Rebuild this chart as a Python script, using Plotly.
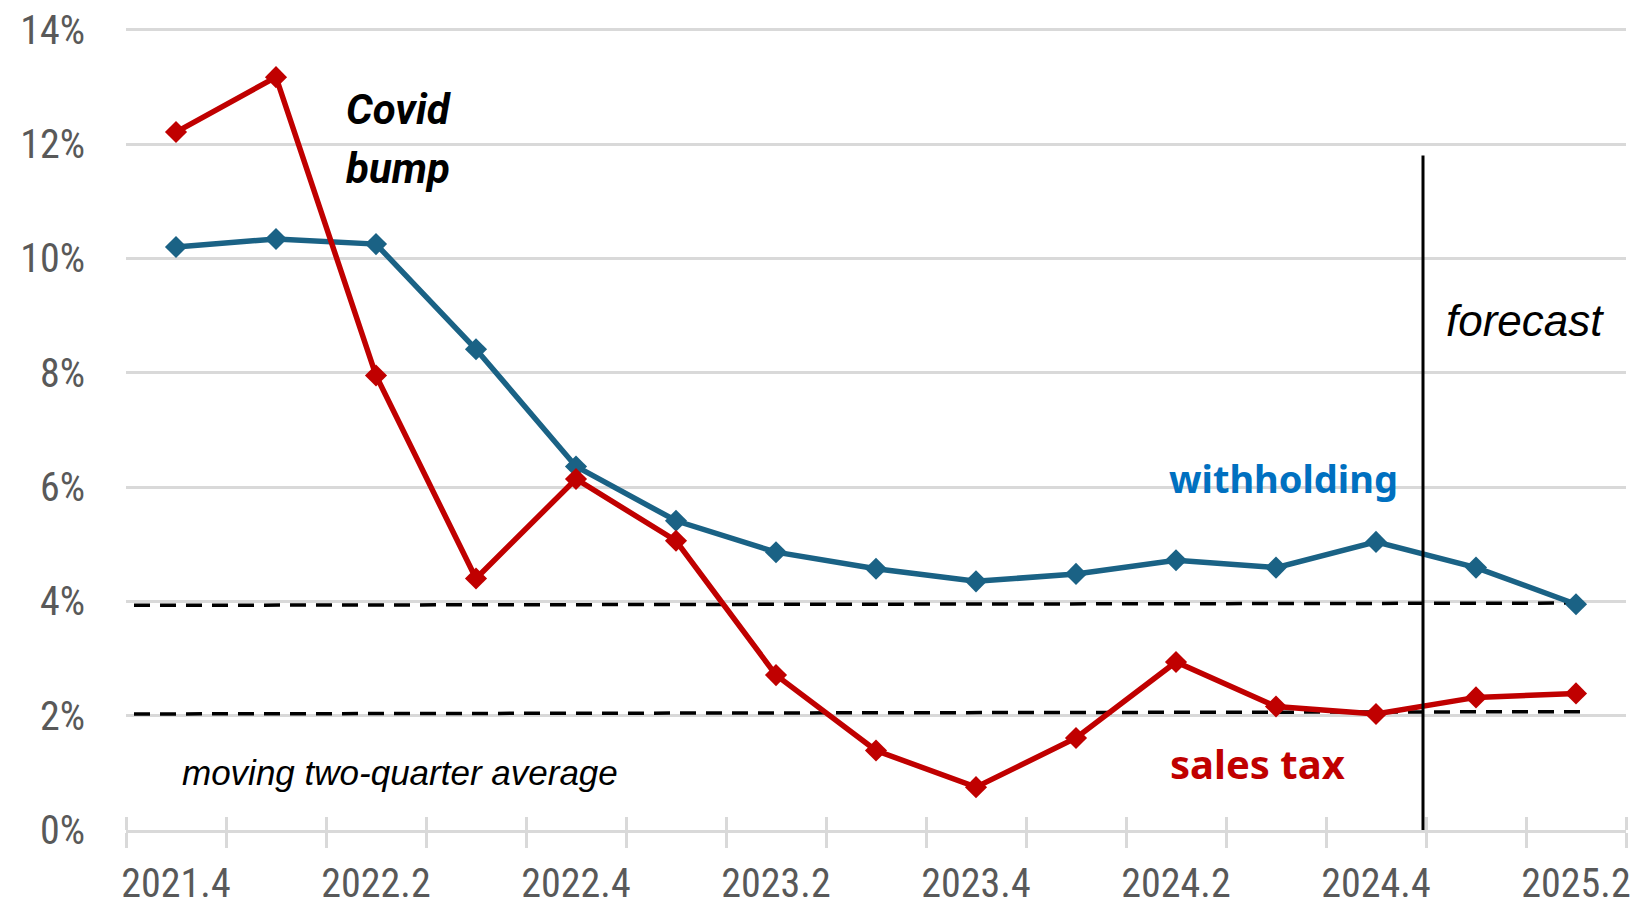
import plotly.graph_objects as go

quarters = ["2021.4", "2022.1", "2022.2", "2022.3", "2022.4", "2023.1", "2023.2", "2023.3",
            "2023.4", "2024.1", "2024.2", "2024.3", "2024.4", "2025.1", "2025.2"]
sales_tax = [12.21, 13.17, 7.95, 4.40, 6.14, 5.06, 2.71, 1.39, 0.75, 1.61, 2.94, 2.16, 2.03, 2.32, 2.39]
withholding = [10.20, 10.34, 10.25, 8.41, 6.36, 5.41, 4.86, 4.57, 4.35, 4.48, 4.72, 4.59, 5.04, 4.59, 3.95]
withholding_avg = [3.93, 3.97]
sales_avg = [2.03, 2.07]
avg_span = [-0.42, 14.12]
forecast_x = [12.47, 12.47]
forecast_y = [-0.05, 11.8]
y_ticks = [0, 2, 4, 6, 8, 10, 12, 14]
y_labels = [f"{v}%" for v in y_ticks]

idx = list(range(len(quarters)))
label_idx = idx[::2]
label_text = [quarters[i] for i in label_idx]

BLUE = "#1A6285"
RED = "#C00000"
GRID = "#D9D9D9"
TICKFONT = dict(family="Roboto Condensed, DejaVu Sans Condensed, sans-serif",
                size=40, color="#595959")

fig = go.Figure()
fig.add_trace(go.Scatter(x=avg_span, y=withholding_avg, mode="lines",
                         line=dict(color="black", width=3.5, dash="16px,10px"), hoverinfo="skip"))
fig.add_trace(go.Scatter(x=avg_span, y=sales_avg, mode="lines",
                         line=dict(color="black", width=3.5, dash="16px,10px"), hoverinfo="skip"))
fig.add_trace(go.Scatter(x=idx, y=withholding, mode="lines+markers", name="withholding",
                         line=dict(color=BLUE, width=5.5),
                         marker=dict(symbol="diamond", size=17, color=BLUE)))
fig.add_trace(go.Scatter(x=idx, y=sales_tax, mode="lines+markers", name="sales tax",
                         line=dict(color=RED, width=5.5),
                         marker=dict(symbol="diamond", size=17, color=RED)))
fig.add_trace(go.Scatter(x=forecast_x, y=forecast_y, mode="lines",
                         line=dict(color="black", width=3), hoverinfo="skip", cliponaxis=False))
fig.add_trace(go.Scatter(x=[None], y=[None], xaxis="x2", mode="markers", hoverinfo="skip"))

annotations = [
    dict(x=1.68, y=12.6, text="<b><i>Covid</i></b>", xanchor="left", yanchor="middle",
         font=dict(family="Roboto, sans-serif", size=42, color="black")),
    dict(x=1.68, y=11.57, text="<b><i>bump</i></b>", xanchor="left", yanchor="middle",
         font=dict(family="Roboto, sans-serif", size=42, color="black")),
    dict(x=11.07, y=6.16, text="<b>withholding</b>", xanchor="center", yanchor="middle",
         font=dict(family="Noto Sans, sans-serif", size=38, color="#0070C0")),
    dict(x=10.81, y=1.16, text="<b>sales tax</b>", xanchor="center", yanchor="middle",
         font=dict(family="Noto Sans, sans-serif", size=40, color=RED)),
    dict(x=13.49, y=8.92, text="<i>forecast</i>", xanchor="center", yanchor="middle",
         font=dict(family="Liberation Sans, Arial, sans-serif", size=44, color="black")),
    dict(x=2.24, y=1.0, text="<i>moving two-quarter average</i>", xanchor="center", yanchor="middle",
         font=dict(family="Liberation Sans, Arial, sans-serif", size=35, color="black")),
]
for a in annotations:
    a.update(xref="x", yref="y", showarrow=False)

fig.update_layout(
    width=1642, height=906,
    margin=dict(l=126, r=16, t=28, b=76, autoexpand=False),
    paper_bgcolor="white", plot_bgcolor="white",
    showlegend=False,
    annotations=annotations,
    xaxis=dict(range=[-0.5, 14.5], tickvals=label_idx, ticktext=label_text,
               ticks="", showgrid=False, zeroline=False, automargin=False,
               showline=True, linecolor=GRID, linewidth=2.5,
               tickfont=TICKFONT, ticklabelstandoff=16,
               minor=dict(tick0=-0.5, dtick=1, ticks="outside", ticklen=15,
                          tickwidth=2.5, tickcolor=GRID, showgrid=False)),
    xaxis2=dict(overlaying="x", matches="x", anchor="y", showticklabels=False, automargin=False,
                ticks="", showgrid=False, zeroline=False, showline=False,
                tickvals=label_idx,
                minor=dict(tick0=-0.5, dtick=1, ticks="inside", ticklen=13,
                           tickwidth=2.5, tickcolor=GRID, showgrid=False)),
    yaxis=dict(range=[0, 14.03], tickvals=y_ticks, ticktext=y_labels, automargin=False,
               ticks="", showgrid=True, gridcolor=GRID, gridwidth=2.5,
               zeroline=False, showline=False,
               tickfont=TICKFONT, ticklabelstandoff=40),
)

fig.write_html("out.html")
